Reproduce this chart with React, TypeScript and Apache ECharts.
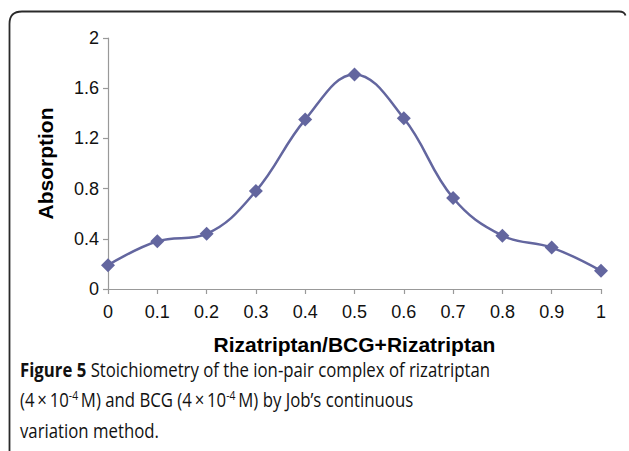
import React, { useEffect, useRef } from "react";
import * as echarts from "echarts";

// Mole fraction: Rizatriptan / (BCG + Rizatriptan)
const moleFraction = [0, 0.1, 0.2, 0.3, 0.4, 0.5, 0.6, 0.7, 0.8, 0.9, 1];
// Absorption values
const absorption = [0.19, 0.38, 0.44, 0.78, 1.35, 1.71, 1.36, 0.725, 0.425, 0.33, 0.145];

const xAxisTitle = "Rizatriptan/BCG+Rizatriptan";
const yAxisTitle = "Absorption";
const captionLines = [
  "{b|Figure 5} Stoichiometry of the ion-pair complex of rizatriptan",
  "(4\u2009\u00d7\u200910{sup|-4}\u2009M) and BCG (4\u2009\u00d7\u200910{sup|-4}\u2009M) by Job\u2019s continuous",
  "variation method.",
];

const FRAME_D = "M9.5 451 L9.5 24 Q9.5 11.5 22 11.5 L619 11.5 Q624.5 11.5 625.5 15.5";
let registered = false;

export default function App() {
  const ref = useRef<HTMLDivElement>(null);
  useEffect(() => {
    if (!ref.current) return;
    if (!registered) {
      echarts.graphic.registerShape("frame", echarts.graphic.extendPath(FRAME_D, {}));
      registered = true;
    }
    const chart = echarts.init(ref.current, null, { renderer: "svg" });
    const lineColor = "#63669f";
    const capFont = "Open Sans";
    const capSize = 19.5;
    const axisFont = "Liberation Sans";
    chart.setOption({
      animation: false,
      grid: { left: 108, right: 28, top: 38, bottom: 162 },
      xAxis: {
        type: "value",
        min: 0,
        max: 1,
        interval: 0.1,
        name: xAxisTitle,
        nameLocation: "middle",
        nameGap: 44.5,
        nameTextStyle: { fontFamily: axisFont, fontWeight: "bold", fontSize: 21, color: "#000" },
        axisLine: { show: true, lineStyle: { color: "#999", width: 1.2 } },
        axisTick: { show: true, length: 5, lineStyle: { color: "#999", width: 1.2 } },
        axisLabel: {
          color: "#111",
          fontFamily: axisFont,
          fontSize: 18,
          margin: 14,
          formatter: (v: number) => String(parseFloat(v.toFixed(1))),
        },
        splitLine: { show: false },
      },
      yAxis: {
        type: "value",
        min: 0,
        max: 2,
        interval: 0.4,
        name: yAxisTitle,
        nameLocation: "middle",
        nameRotate: 90,
        nameGap: 52.5,
        nameTextStyle: { fontFamily: axisFont, fontWeight: "bold", fontSize: 21, color: "#000" },
        axisLine: { show: true, lineStyle: { color: "#999", width: 1.2 } },
        axisTick: { show: true, length: 5, lineStyle: { color: "#999", width: 1.2 } },
        axisLabel: {
          color: "#111",
          fontFamily: axisFont,
          fontSize: 18,
          margin: 9,
          formatter: (v: number) => String(parseFloat(v.toFixed(1))),
        },
        splitLine: { show: false },
      },
      series: [
        {
          type: "line",
          data: moleFraction.map((x, i) => [x, absorption[i]]),
          smooth: 0.4,
          symbol: "diamond",
          symbolSize: 14,
          lineStyle: { color: lineColor, width: 2.5 },
          itemStyle: { color: lineColor },
        },
      ],
      graphic: [
        {
          type: "frame",
          x: 0,
          y: 0,
          silent: true,
          style: { fill: "none", stroke: "#2a2a2a", lineWidth: 1.8 },
        },
        {
          type: "group",
          x: 20,
          y: 0,
          scaleX: 0.86,
          children: captionLines.map((t, i) => ({
            type: "text",
            x: 0,
            y: 369 + i * 30.5,
            style: {
              text: t,
              fontFamily: capFont,
              fontSize: capSize,
              fill: "#111",
              verticalAlign: "middle",
              align: "left",
              rich: {
                b: { fontFamily: capFont, fontSize: capSize, fontWeight: "bold", fill: "#111", lineHeight: 26 },
                sup: { fontFamily: capFont, fontSize: 12, fill: "#111", verticalAlign: "top", lineHeight: 17 },
              },
            },
          })),
        },
      ],
    });
    return () => chart.dispose();
  }, []);
  return (
    <div
      ref={ref}
      style={{ position: "fixed", left: 0, top: 0, width: 629, height: 451, background: "#fff" }}
    />
  );
}
